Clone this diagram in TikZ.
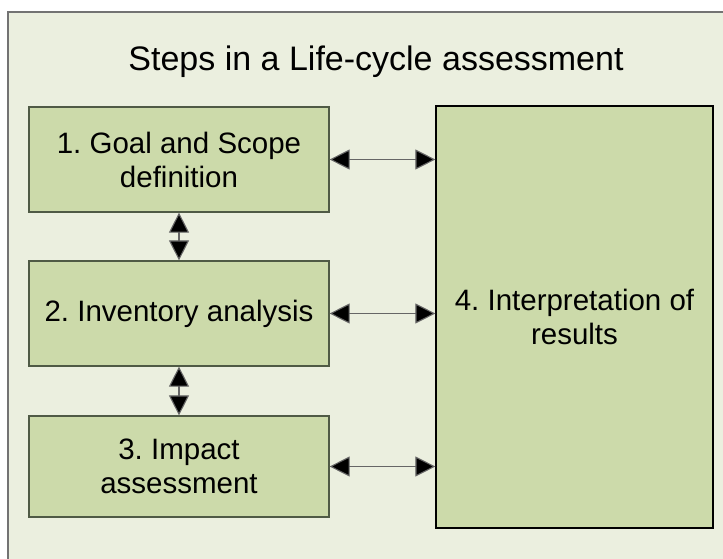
\documentclass[tikz,border=0pt]{standalone}
\usepackage{fontspec}
\setmainfont{Liberation Sans}
\frenchspacing
\definecolor{mybg}{HTML}{EBEFDF}
\definecolor{mygreen}{HTML}{CCDAAA}
\definecolor{myedge}{HTML}{4F5A45}
\usepackage{tikz}
\usetikzlibrary{positioning, arrows.meta}
\tikzset{
	stagenode/.style={
			rectangle,
			draw=myedge,
			fill=mygreen,
			line width=1.2pt,
			minimum width=300pt,
			minimum height=105pt,
			align=center,
			inner sep=0pt,
			font=\fontsize{29.5}{34}\selectfont
		},
	resultnode/.style={
			stagenode,
			draw=black,
			minimum width=277pt,
			minimum height=422pt
		},
	titlenode/.style={
			inner sep=0pt,
			font=\fontsize{34}{40}\selectfont
		},
	link/.style={
			draw=black!60,
			line width=1.1pt,
			{Triangle[length=20pt,width=20pt,fill=black]}-{Triangle[length=20pt,width=20pt,fill=black]}
		}
}

\begin{document}
\begin{tikzpicture}[x=1pt, y=-1pt]
\useasboundingbox (0,0) rectangle (723,559);
\draw[black!55, line width=1.3pt, fill=mybg] (8,12) rectangle (740,580);

\node[titlenode] (title) at (376,62)  {Steps in a Life-cycle assessment};

\node[stagenode] (s1) at (179,159.5)  {1. Goal and Scope\\definition};
\node[stagenode] (s2) at (179,313.5)  {2. Inventory analysis};
\node[stagenode, minimum height=101pt] (s3) at (179,466.5)  {3. Impact\\assessment};
\node[resultnode] (s4) at (574.5,317)  {4. Interpretation of\\results};

\draw[link] (s1) -- (s2);
\draw[link] (s2) -- (s3);

\draw[link] (s1.east) -- (s1.east -| s4.west);
\draw[link] (s2.east) -- (s2.east -| s4.west);
\draw[link] (s3.east) -- (s3.east -| s4.west);

\end{tikzpicture}
\end{document}
